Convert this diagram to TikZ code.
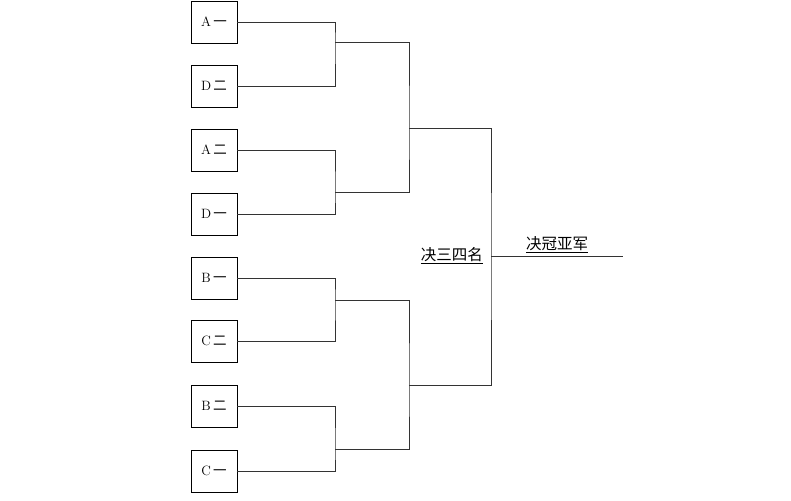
\documentclass[tikz,border=0pt]{standalone}
\usepackage{fontspec}
\newfontfamily\cjk{Noto Sans CJK SC}
\usetikzlibrary{positioning,calc}

\begin{document}
\begin{tikzpicture}[x=1pt,y=-1pt,
    team/.style={shape=rectangle,draw=black,line width=0.9pt,minimum width=46pt,minimum height=42pt,inner sep=0pt,font=\fontsize{13.5}{13.5}\selectfont},
    bracket/.style={draw=black!80,line width=0.9pt},
    title/.style={font=\cjk\fontsize{15.5}{15.5}\selectfont,inner sep=1pt}]
    \useasboundingbox (0,0) rectangle (791,500);
    \node[team] (A1) at (214,22) {A\,{\cjk 一}};
    \node[team] (D2) at (214,86) {D\,{\cjk 二}};
    \node[team] (A2) at (214,150) {A\,{\cjk 二}};
    \node[team] (D1) at (214,214) {D\,{\cjk 一}};
    \node[team] (B1) at (214,278) {B\,{\cjk 一}};
    \node[team] (C2) at (214,341) {C\,{\cjk 二}};
    \node[team] (B2) at (214,406) {B\,{\cjk 二}};
    \node[team] (C1) at (214,471) {C\,{\cjk 一}};
    % joints
    \coordinate (S1) at (335,42);
    \coordinate (S2) at (335,192);
    \coordinate (S3) at (335,300);
    \coordinate (S4) at (335,449);
    \coordinate (Q1) at (409,128);
    \coordinate (Q2) at (409,385);
    \coordinate (F) at (491,256);
    \coordinate (W) at (623,256);
    %\path [->](A1) (D2);
    \path [bracket](A1.east) -| (S1) |- (D2.east);
    \path [bracket](A2.east) -| (S2) |- (D1.east);
    \path [bracket](B1.east) -| (S3) |- (C2.east);
    \path [bracket](B2.east) -| (S4) |- (C1.east);
    \path [bracket](S1) -| (Q1) |- (S2);
    \path [bracket](S3) -| (Q2) |- (S4);
    \path [bracket](Q1) -| (F) |- (Q2);
    \path [bracket](F) -- (W);
    \node[title,anchor=east] (third) at ($(F)+(-7,0)$) {\underline{决三四名}};
    \node[title,anchor=south] (final) at ($(F)!0.5!(W)+(0,-2)$) {\underline{决冠亚军}};
\end{tikzpicture}
\end{document}
